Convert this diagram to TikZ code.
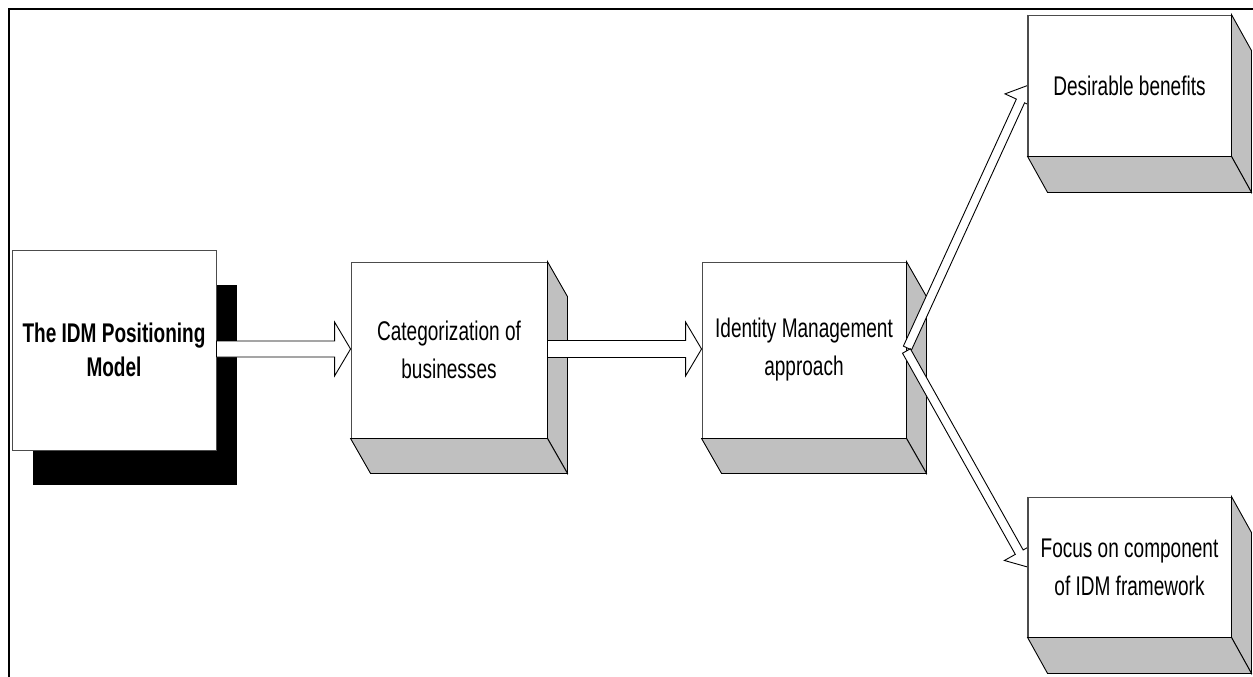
\documentclass[tikz,border=0pt]{standalone}
\usepackage{fontspec}
\setmainfont{Liberation Sans}[FakeStretch=0.705]
\usetikzlibrary{calc,shadows}
\definecolor{sidegray}{HTML}{C0C0C0}
\tikzset{
  box/.style={draw=black!70, fill=white, line width=0.9pt, align=center,
    inner sep=0pt, font=\fontsize{27}{38}\selectfont},
  boldbox/.style={box, font=\fontsize{27}{34}\selectfont\bfseries,
    drop shadow={shadow xshift=21pt, shadow yshift=-35pt, opacity=1, fill=black}},
  side/.style={fill=sidegray, draw=black, line width=0.9pt, line join=miter},
  blockarrow/.style={fill=white, draw=black, line width=0.9pt, line join=miter},
  frameline/.style={line width=2.7pt, line join=miter}
}
% grey depth faces (right and bottom) of a 3-D box node
\newcommand\depthfaces[2]{%
  \draw[side] (#1.north east) -- ($(#1.north east)+#2$) -- ($(#1.south east)+#2$)
    -- (#1.south east) -- cycle;
  \draw[side] (#1.south west) -- (#1.south east) -- ($(#1.south east)+#2$)
    -- ($(#1.south west)+#2$) -- cycle;
}
% hollow block arrow: from, to, shaft half-width, head half-width, head length
\newcommand\hollowarrow[5]{%
  \coordinate (ha-base) at ($(#2)!#5!(#1)$);
  \draw[blockarrow]
    ($(#1)!#3!90:(#2)$) -- ($(ha-base)!#3!90:(#2)$) -- ($(ha-base)!#4!90:(#2)$)
    -- (#2) -- ($(ha-base)!#4!-90:(#2)$) -- ($(ha-base)!#3!-90:(#2)$)
    -- ($(#1)!#3!-90:(#2)$) -- cycle;
}
\begin{document}
\begin{tikzpicture}[x=1pt, y=-1pt]
\useasboundingbox (0,0) rectangle (1253,677);

% page frame (top and left rules)
\draw[frameline] (1253,9) -- (9,9) -- (9,677);

% boxes
\node[boldbox, minimum width=204pt, minimum height=200pt] (b1) at (114,350)
  {The IDM Positioning\\Model};

\node[box, minimum width=196pt, minimum height=176pt] (b2) at (449,350)
  {Categorization of\\businesses};
\depthfaces{b2}{(20,35)}

\node[box, minimum width=204pt, minimum height=176pt] (b3) at (804,350)
  {Identity Management\\approach};
\depthfaces{b3}{(20,35)}

\node[box, minimum width=203pt, minimum height=141pt] (b4) at (1129.5,85.5)
  {Desirable benefits};
\depthfaces{b4}{(20,36)}

\node[box, minimum width=203pt, minimum height=140pt] (b5) at (1129.5,567)
  {Focus on component\\of IDM framework};
\depthfaces{b5}{(20,36)}

% horizontal flow arrows
\coordinate (a1s) at ($(b1.east)+(0,-1)$);
\coordinate (a1t) at ($(b2.west)+(0,-1)$);
\hollowarrow{a1s}{a1t}{8pt}{27pt}{16pt}
\coordinate (a2s) at ($(b2.east)+(0,-1)$);
\coordinate (a2t) at ($(b3.west)+(0,-1)$);
\hollowarrow{a2s}{a2t}{8.5pt}{27pt}{16pt}

% diagonal arrows, heads tucked behind the target boxes
\begin{scope}
  \clip (0,0) rectangle (b4.west |- 0,677);
  \coordinate (a3s) at ($(b3.east)+(1,-2)$);
  \hollowarrow{a3s}{b4.west}{4.5pt}{17pt}{17pt}
  \coordinate (a4s) at ($(b3.east)+(0,1)$);
  \hollowarrow{a4s}{b5.west}{4.5pt}{17pt}{17pt}
\end{scope}
\draw[draw=black!70, line width=0.9pt] (b4.north west) -- (b4.south west);
\draw[draw=black!70, line width=0.9pt] (b5.north west) -- (b5.south west);
\end{tikzpicture}
\end{document}
